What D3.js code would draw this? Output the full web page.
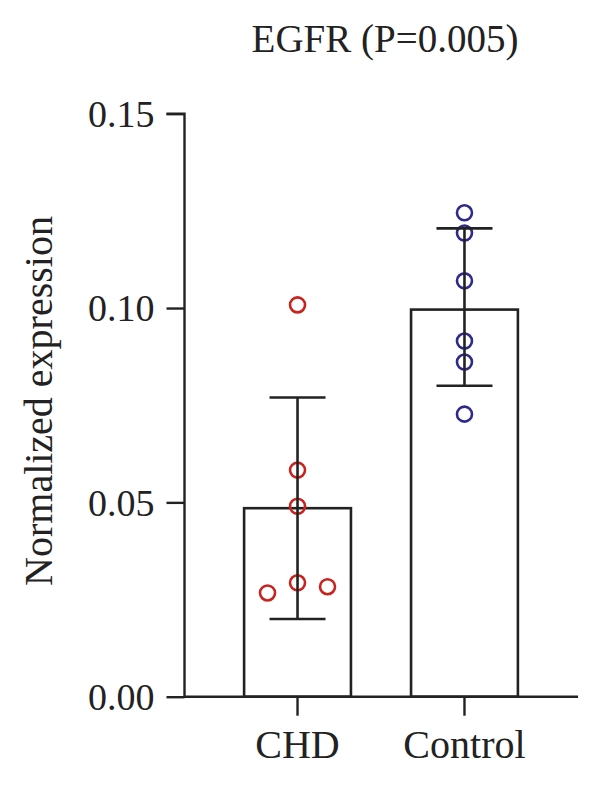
<!DOCTYPE html>
<html><head><meta charset="utf-8">
<script src="https://cdn.jsdelivr.net/npm/d3@7"></script>
<style>body{margin:0;background:#fff}svg{display:block}</style>
</head><body>
<svg id="c" width="600" height="787"></svg>
<script>
const title = "EGFR (P=0.005)";
const yLabel = "Normalized expression";
const categories = ["CHD", "Control"];
const means = [0.0485, 0.0996];
const errLow = [0.0200, 0.0800];
const errHigh = [0.0770, 0.1205];
const chdPoints = [0.1008, 0.0583, 0.0490, 0.0267, 0.0293, 0.0283];
const chdOffsets = [0, 0, 0, -1, 0, 1];
const controlPoints = [0.1245, 0.1193, 0.1070, 0.0915, 0.0861, 0.0727];
const controlOffsets = [0, 0, 0, 0, 0, 0];
const yTicks = [0, 0.05, 0.10, 0.15];
const colors = ["#c8231f", "#2e2a8c"];

const svg = d3.select("#c");
const font = "'Liberation Serif', 'DejaVu Serif', serif";
const y = d3.scaleLinear().domain([0, 0.15]).range([696.7, 113.7]);
const x = d3.scaleBand().domain(categories).range([184, 578]).paddingInner(0.36).paddingOuter(0.36);
const cx = c => x(c) + x.bandwidth() / 2;

// bars
svg.selectAll("rect.bar").data(categories).join("rect")
  .attr("x", d => x(d)).attr("y", (d, i) => y(means[i]))
  .attr("width", x.bandwidth()).attr("height", (d, i) => y(0) - y(means[i]))
  .attr("fill", "none").attr("stroke", "#222").attr("stroke-width", 2.6);

// points
const pts = [chdPoints.map((v, j) => ({c: 0, v, o: chdOffsets[j]})),
             controlPoints.map((v, j) => ({c: 1, v, o: controlOffsets[j]}))].flat();
svg.selectAll("circle.pt").data(pts).join("circle")
  .attr("cx", d => cx(categories[d.c]) + d.o * 30).attr("cy", d => y(d.v))
  .attr("r", 7.5).attr("fill", "none")
  .attr("stroke", d => colors[d.c]).attr("stroke-width", 2.6);

// error bars
const eb = svg.append("g").attr("stroke", "#222").attr("stroke-width", 2.6);
categories.forEach((c, i) => {
  eb.append("line").attr("x1", cx(c)).attr("x2", cx(c)).attr("y1", y(errHigh[i])).attr("y2", y(errLow[i]));
  [errHigh[i], errLow[i]].forEach(v => {
    eb.append("line").attr("x1", cx(c) - 28).attr("x2", cx(c) + 28).attr("y1", y(v)).attr("y2", y(v));
  });
});

// y axis
const ya = svg.append("g").attr("transform", "translate(184.5,0)")
  .call(d3.axisLeft(y).tickValues(yTicks).tickFormat(d3.format(".2f")).tickSize(18).tickPadding(12));
ya.selectAll("path,line").attr("stroke", "#222").attr("stroke-width", 2.4);
ya.select("path").attr("d", `M-18,${y(0.15)}H0V${y(0)}`);
ya.selectAll("text").attr("font-family", font).attr("font-size", 38).attr("fill", "#222").attr("dy", "0.34em");

// x axis
const xa = svg.append("g").attr("transform", `translate(0,${y(0)})`)
  .call(d3.axisBottom(x).tickSize(19).tickPadding(14));
xa.selectAll("path,line").attr("stroke", "#222").attr("stroke-width", 2.4);
xa.select("path").attr("d", "M184,0H578");
xa.selectAll("text").attr("font-family", font).attr("font-size", 40).attr("fill", "#222").attr("dy", "0.72em");

// labels
svg.append("text").attr("x", 385).attr("y", 52).attr("text-anchor", "middle")
  .attr("font-family", font).attr("font-size", 39).attr("fill", "#222").text(title);
svg.append("text").attr("transform", "translate(52,401) rotate(-90)").attr("text-anchor", "middle")
  .attr("font-family", font).attr("font-size", 40).attr("fill", "#222").text(yLabel);
</script>
</body></html>
